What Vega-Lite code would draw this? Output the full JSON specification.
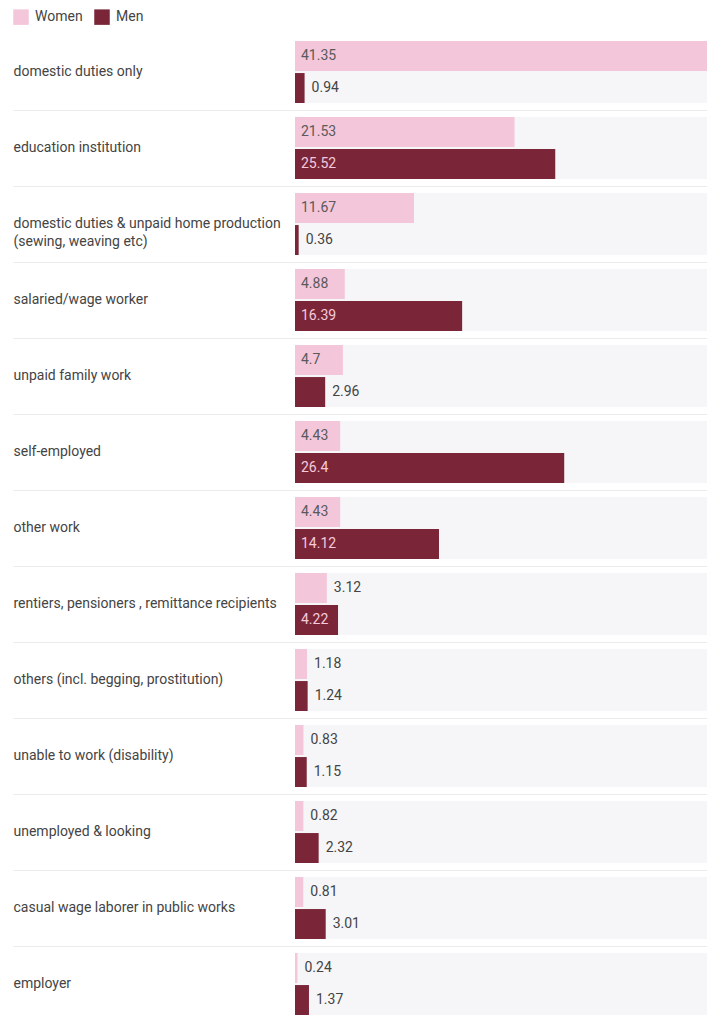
{
  "$schema": "https://vega.github.io/schema/vega-lite/v6.json",
  "width": 412,
  "height": 988,
  "autosize": {"type": "none"},
  "padding": {"left": 295, "top": 34, "right": 0, "bottom": 0},
  "background": "#ffffff",
  "config": {"view": {"stroke": null}, "font": "Roboto"},
  "data": {
    "values": [
      {"category": "domestic duties only", "sex": "Women", "value": 41.35},
      {"category": "domestic duties only", "sex": "Men", "value": 0.94},
      {"category": "education institution", "sex": "Women", "value": 21.53},
      {"category": "education institution", "sex": "Men", "value": 25.52},
      {"category": "domestic duties & unpaid home production (sewing, weaving etc)", "sex": "Women", "value": 11.67},
      {"category": "domestic duties & unpaid home production (sewing, weaving etc)", "sex": "Men", "value": 0.36},
      {"category": "salaried/wage worker", "sex": "Women", "value": 4.88},
      {"category": "salaried/wage worker", "sex": "Men", "value": 16.39},
      {"category": "unpaid family work", "sex": "Women", "value": 4.7},
      {"category": "unpaid family work", "sex": "Men", "value": 2.96},
      {"category": "self-employed", "sex": "Women", "value": 4.43},
      {"category": "self-employed", "sex": "Men", "value": 26.4},
      {"category": "other work", "sex": "Women", "value": 4.43},
      {"category": "other work", "sex": "Men", "value": 14.12},
      {"category": "rentiers, pensioners , remittance recipients", "sex": "Women", "value": 3.12},
      {"category": "rentiers, pensioners , remittance recipients", "sex": "Men", "value": 4.22},
      {"category": "others (incl. begging, prostitution)", "sex": "Women", "value": 1.18},
      {"category": "others (incl. begging, prostitution)", "sex": "Men", "value": 1.24},
      {"category": "unable to work (disability)", "sex": "Women", "value": 0.83},
      {"category": "unable to work (disability)", "sex": "Men", "value": 1.15},
      {"category": "unemployed & looking", "sex": "Women", "value": 0.82},
      {"category": "unemployed & looking", "sex": "Men", "value": 2.32},
      {"category": "casual wage laborer in public works", "sex": "Women", "value": 0.81},
      {"category": "casual wage laborer in public works", "sex": "Men", "value": 3.01},
      {"category": "employer", "sex": "Women", "value": 0.24},
      {"category": "employer", "sex": "Men", "value": 1.37}
    ]
  },
  "encoding": {
    "y": {
      "field": "category",
      "type": "nominal",
      "sort": null,
      "scale": {"paddingInner": 0.184, "paddingOuter": 0.092},
      "axis": {
        "title": null,
        "domain": false,
        "ticks": true,
        "tickSize": 282,
        "tickColor": "#ebebeb",
        "grid": true,
        "gridColor": "#ebebeb",
        "bandPosition": 1.113,
        "labelAlign": "left",
        "labelBaseline": "middle",
        "labelPadding": 0,
        "labelFontSize": 14,
        "labelColor": "#444444",
        "labelFont": "Roboto",
        "labelLimit": 300,
        "labelLineHeight": 18,
        "labelExpr": "datum.label == 'domestic duties & unpaid home production (sewing, weaving etc)' ? ['domestic duties & unpaid home production', '(sewing, weaving etc)'] : datum.label"
      }
    }
  },
  "layer": [
    {
      "mark": {"type": "bar", "color": "#f6f6f8", "clip": true},
      "encoding": {
        "x": {"datum": 0, "type": "quantitative", "scale": {"domain": [0, 40.4], "nice": false, "zero": true}, "axis": null},
        "x2": {"datum": 40.4}
      }
    },
    {
      "mark": {"type": "bar", "clip": true},
      "encoding": {
        "x": {"field": "value", "type": "quantitative"},
        "yOffset": {"field": "sex", "type": "nominal", "sort": ["Women", "Men"], "scale": {"paddingInner": 0.065, "paddingOuter": 0}},
        "color": {
          "field": "sex",
          "type": "nominal",
          "sort": ["Women", "Men"],
          "scale": {"domain": ["Women", "Men"], "range": ["#f4c6da", "#7b2638"]},
          "legend": {
            "title": null,
            "orient": "none",
            "legendX": -282,
            "legendY": -25,
            "direction": "horizontal",
            "symbolType": "square",
            "symbolSize": 240,
            "symbolStrokeWidth": 0,
            "symbolOpacity": 1,
            "labelFontSize": 14,
            "labelColor": "#444444",
            "labelFont": "Roboto",
            "labelOffset": 6,
            "columnPadding": 11
          }
        }
      }
    },
    {
      "transform": [{"filter": "datum.value >= 4"}],
      "mark": {"type": "text", "align": "left", "baseline": "middle", "dx": 6, "fontSize": 14},
      "encoding": {
        "x": {"datum": 0, "type": "quantitative"},
        "yOffset": {"field": "sex", "type": "nominal", "sort": ["Women", "Men"]},
        "text": {"field": "value", "type": "nominal"},
        "color": {"condition": {"test": "datum.sex == 'Men'", "value": "#f5cadd"}, "value": "#5a5a5a"}
      }
    },
    {
      "transform": [{"filter": "datum.value < 4"}],
      "mark": {"type": "text", "align": "left", "baseline": "middle", "dx": 7, "fontSize": 14, "color": "#444444"},
      "encoding": {
        "x": {"field": "value", "type": "quantitative"},
        "yOffset": {"field": "sex", "type": "nominal", "sort": ["Women", "Men"]},
        "text": {"field": "value", "type": "nominal"}
      }
    }
  ]
}
